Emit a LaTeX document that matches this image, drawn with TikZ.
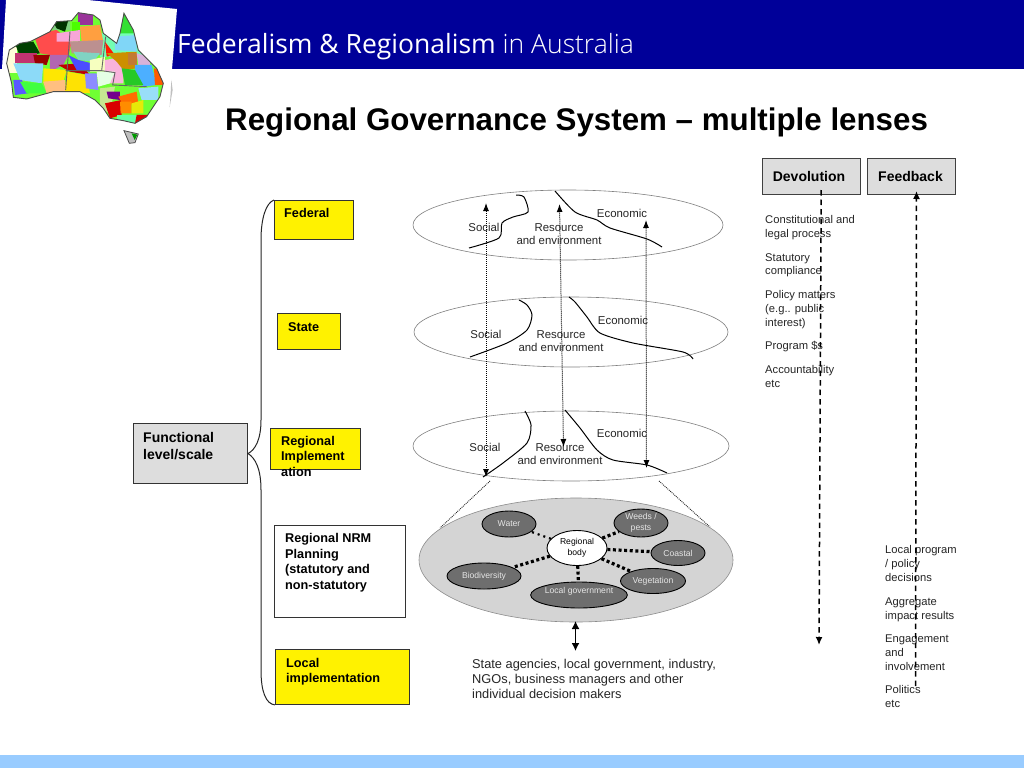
\documentclass[tikz,border=0pt]{standalone}
\usepackage{fontspec}
\setmainfont{Liberation Sans}
\newfontfamily\headfont{Open Sans}
\newfontfamily\headlight{Open Sans Light}
\usetikzlibrary{shapes.geometric,arrows.meta}
\definecolor{navy}{HTML}{000099}
\definecolor{foot}{HTML}{99CCFF}
\definecolor{pale}{HTML}{DDDDDD}
\definecolor{lens}{HTML}{808080}
\definecolor{disc}{HTML}{D4D4D4}
\definecolor{issue}{HTML}{6E6E6E}
\tikzset{
  note/.style={anchor=north west,inner sep=0pt,align=left,text=black!85,font=\fontsize{11.2}{13.6}\selectfont},
  lenslabel/.style={inner sep=0pt,align=center,text=black!85,font=\fontsize{11.4}{13}\selectfont},
  levellabel/.style={anchor=north west,inner sep=0pt,align=left,font=\bfseries\fontsize{12.7}{15.4}\selectfont},
  levelbox/.style={draw=black!80,line width=.9pt,fill=yellow,rectangle,inner sep=0pt,anchor=north west},
  headbox/.style={draw=black!75,line width=1pt,fill=pale,rectangle,inner sep=0pt,anchor=north west,font=\bfseries\fontsize{14}{16}\selectfont},
  lens/.style={draw=lens,line width=.6pt,fill=white,ellipse,inner sep=0pt},
  issuenode/.style={draw=black,line width=.9pt,fill=issue,ellipse,inner sep=0pt,text=white!90!black,align=center,font=\fontsize{8.6}{10.5}\selectfont},
  border/.style={line width=1pt,black,smooth,tension=.45},
  lift/.style={densely dotted,line width=1pt,{Latex[length=8pt,width=6pt]}-{Latex[length=8pt,width=6pt]}},
  thicklink/.style={line width=3.2pt,dash pattern=on 3pt off 2.6pt,black},
  thinlink/.style={line width=2.2pt,dash pattern=on 2pt off 4pt,black},
  longdash/.style={line width=1.5pt,dash pattern=on 5.5pt off 4pt,black},
  zoomline/.style={densely dotted,line width=.9pt,black!85}
}
\begin{document}
\begin{tikzpicture}[x=1pt,y=-1pt]
\useasboundingbox (0,0) rectangle (1024,768);
\fill[white] (0,0) rectangle (1024,768);
\fill[navy] (0,0) rectangle (1024,69);
\fill[foot] (0,755) rectangle (1024,768);
% map card
\fill[white] (6,0) -- (88,0) -- (177,9) -- (172,69) -- (172,150) -- (0,150) -- (0,69) -- (2,69) -- cycle;
\begin{scope}[x=.3333pt,y=-.3333pt]
\def\ausoutline{(28,150) -- (60,130) -- (90,125) -- (150,95) -- (170,65) -- (215,62) -- (235,38) -- (280,45) -- (300,60) -- (310,100) -- (350,130) -- (360,100) -- (372,40) -- (400,90) -- (415,150) -- (470,205) -- (490,250) -- (480,290) -- (440,350) -- (405,370) -- (370,362) -- (330,355) -- (310,325) -- (285,300) -- (240,275) -- (160,275) -- (80,297) -- (40,292) -- (35,250) -- (20,190) -- cycle}
\begin{scope}
\clip \ausoutline;
\fill[green!70!yellow!80!white] (0,0) rectangle (520,400);
\fill[green!55!cyan!55] (300,100) rectangle (430,170);
\fill[green!85!black!80] (340,30) -- (400,30) -- (400,100) -- (350,100) -- cycle;
\fill[white!85!yellow] (20,140) rectangle (50,220);
\fill[black!75!green] (45,130) -- (100,125) -- (120,160) -- (60,170) -- cycle;
\fill[red!70!white] (100,100) -- (170,90) -- (215,125) -- (205,170) -- (150,165) -- (120,160) -- cycle;
\fill[red!70!blue!80] (45,160) -- (110,160) -- (110,190) -- (45,190) -- cycle;
\fill[red!60!black] (100,165) -- (150,165) -- (140,195) -- (105,190) -- cycle;
\fill[cyan!45] (40,190) -- (130,190) -- (125,250) -- (60,240) -- cycle;
\fill[blue!65!white] (40,240) -- (65,240) -- (85,280) -- (45,285) -- cycle;
\fill[green!75] (60,245) -- (125,250) -- (140,280) -- (80,280) -- cycle;
\fill[violet!60!white] (150,165) -- (205,165) -- (190,195) -- (150,215) -- cycle;
\fill[yellow!90!orange] (130,205) -- (200,210) -- (190,245) -- (130,250) -- cycle;
\fill[orange!50!white] (130,245) -- (195,240) -- (200,280) -- (140,280) -- cycle;
\fill[red!75!black] (175,195) -- (240,190) -- (270,225) -- (210,215) -- cycle;
\fill[yellow!85!orange] (200,215) -- (260,225) -- (270,280) -- (195,275) -- cycle;
\fill[black!35!green!50!white] (160,60) rectangle (210,90);
\fill[black!80!green] (160,65) -- (205,60) -- (195,95) -- (170,85) -- cycle;
\fill[violet!80!white] (235,40) rectangle (280,75);
\fill[green!70!yellow] (215,65) rectangle (240,95);
\fill[orange!75!white] (240,80) -- (300,75) -- (310,125) -- (245,125) -- cycle;
\fill[magenta!35] (170,100) -- (240,90) -- (240,125) -- (170,125) -- cycle;
\fill[red!25!gray!70!white] (210,125) -- (310,120) -- (305,165) -- (215,160) -- cycle;
\fill[red!80!orange] (315,125) -- (345,165) -- (320,170) -- cycle;
\fill[cyan!50!green!50] (220,155) -- (300,160) -- (280,185) -- (235,180) -- cycle;
\fill[blue!70!white] (205,165) -- (235,180) -- (275,190) -- (270,215) -- (230,210) -- cycle;
\fill[green!15!yellow!25] (270,180) -- (315,170) -- (315,215) -- (270,215) -- cycle;
\fill[magenta!30] (315,180) -- (370,170) -- (370,250) -- (315,250) -- cycle;
\fill[orange!60!yellow!80!black] (320,160) -- (410,155) -- (410,205) -- (370,210) -- (350,185) -- cycle;
\fill[orange!70!black!80] (385,160) rectangle (412,195);
\fill[violet!30!white] (410,160) -- (450,170) -- (450,195) -- (415,195) -- cycle;
\fill[cyan!50] (345,110) -- (410,105) -- (410,155) -- (345,150) -- cycle;
\fill[blue!45!cyan!70] (405,195) -- (455,195) -- (470,255) -- (430,260) -- (405,225) -- cycle;
\fill[red!65!yellow] (462,205) -- (495,210) -- (495,255) -- (465,255) -- cycle;
\fill[green!75!black!85] (365,205) -- (405,210) -- (430,255) -- (375,255) -- cycle;
\fill[blue!45!white] (255,220) -- (290,220) -- (295,270) -- (258,265) -- cycle;
\fill[green!10!white] (290,215) -- (345,215) -- (330,250) -- (295,260) -- cycle;
\fill[yellow!50!green!45!white] (300,265) -- (345,260) -- (330,340) -- (300,325) -- cycle;
\fill[violet!90!blue] (320,275) -- (360,275) -- (360,300) -- (325,295) -- cycle;
\fill[red!85!black] (315,310) -- (365,300) -- (365,345) -- (330,355) -- cycle;
\fill[orange!85!red] (355,290) -- (410,275) -- (415,310) -- (370,315) -- cycle;
\fill[orange!90!yellow] (360,305) -- (395,305) -- (395,340) -- (362,340) -- cycle;
\fill[yellow!90!green] (395,310) -- (430,300) -- (430,340) -- (395,340) -- cycle;
\fill[cyan!40] (415,265) -- (475,260) -- (475,300) -- (425,300) -- cycle;
\fill[green!60!cyan!60] (350,345) -- (410,345) -- (410,375) -- (350,375) -- cycle;
\fill[red!85!black] (410,345) -- (445,345) -- (440,370) -- (405,370) -- cycle;
\draw[black!60,line width=.9pt] (210,95) -- (197,270) (317,110) -- (305,212) -- (345,218) -- (338,255) -- (440,260) (197,212) -- (305,212);
\end{scope}
\draw[black!70,line width=.9pt] \ausoutline;
\fill[black!25!white,draw=black!70,line width=.8pt] (372,392) -- (415,402) -- (405,428) -- (388,430) -- cycle;
\fill[green!60!black] (395,400) -- (412,404) -- (404,420) -- cycle;
\fill[black!25] (514,240) -- (518,270) -- (509,322) -- (512,280) -- cycle;
\end{scope}
% header and title
\node[anchor=west,inner sep=0pt,white] (headline) at (177,47) {\fontsize{26.5}{30}\selectfont\headfont Federalism \& Regionalism {\headlight in Australia}};
\node[anchor=west,inner sep=0pt] (title) at (225,122) {\bfseries\fontsize{31.3}{36}\selectfont Regional Governance System – multiple lenses};
% level boxes
\node[draw=black!80,line width=1pt,fill=pale,rectangle,inner sep=0pt,anchor=north west,minimum width=114pt,minimum height=60pt] (functional) at (133,423) {};
\node[anchor=north west,inner sep=0pt,align=left,font=\bfseries\fontsize{14}{17}\selectfont] (functext) at (143,432.5) {Functional\\level/scale};
\node[levelbox,minimum width=79pt,minimum height=39pt] (federal) at (274,200) {};
\node[levelbox,minimum width=63pt,minimum height=36pt] (state) at (277,313) {};
\node[levelbox,minimum width=90pt,minimum height=41pt] (regimp) at (270,428) {};
\node[levelbox,fill=white,minimum width=131pt,minimum height=92pt] (nrm) at (274,525) {};
\node[levelbox,minimum width=134pt,minimum height=55pt] (local) at (275,649) {};
\node[levellabel] (federaltext) at (284,208.5) {Federal};
\node[levellabel] (statetext) at (288,322) {State};
\node[levellabel] (regimptext) at (281,436) {Regional\\Implement\\ation};
\node[levellabel] (nrmtext) at (285,533.5) {Regional NRM\\Planning\\(statutory and\\non-statutory};
\node[levellabel] (localtext) at (286,658) {Local\\implementation};
% brace
\draw[line width=1pt,black!85] (federal.north west) .. controls (266,203) and (261,218) .. (261,240) -- (261,420) .. controls (261,440) and (255,450) .. (functional.east) .. controls (255,458) and (261,468) .. (261,490) -- (261,670) .. controls (261,692) and (266,704) .. (local.south west);
% lens ellipses
\node[lens,minimum width=310pt,minimum height=70pt] (lensA) at (568,225) {};
\node[lens,minimum width=314pt,minimum height=70pt] (lensB) at (571,332) {};
\node[lens,minimum width=316pt,minimum height=70pt] (lensC) at (571,446) {};
\draw[border] plot coordinates {(516,195) (524,197) (528,212) (513,217) (502,223) (499,238) (469,248)};
\draw[border] plot coordinates {(555,191) (575,212) (597,220) (610,228) (647,239) (662,247)};
\draw[border] plot coordinates {(519,300) (527,305) (532,315) (527,330) (507,343) (470,357)};
\draw[border] plot coordinates {(569,297) (575,302) (587,317) (600,333) (633,343) (683,352) (693,359)};
\draw[border] plot coordinates {(525,411) (531,425) (527,443) (503,463) (483,477)};
\draw[border] plot coordinates {(565,410) (580,428) (597,450) (613,460) (647,465) (667,473)};
\node[lenslabel] (socA) at (484,227.5) {Social};
\node[lenslabel] (resA) at (559,234) {Resource\\and environment};
\node[lenslabel] (ecoA) at (622,213.5) {Economic};
\node[lenslabel] (socB) at (486,334.5) {Social};
\node[lenslabel] (resB) at (561,341) {Resource\\and environment};
\node[lenslabel] (ecoB) at (623,320.5) {Economic};
\node[lenslabel] (socC) at (485,447.5) {Social};
\node[lenslabel] (resC) at (560,454) {Resource\\and environment};
\node[lenslabel] (ecoC) at (622,433.5) {Economic};
% vertical lifts
\coordinate (liftAt) at (486,203);
\coordinate (liftAb) at (486,477);
\coordinate (liftBt) at (559.5,204);
\coordinate (liftBb) at (563.5,447);
\coordinate (liftCt) at (646,220);
\coordinate (liftCb) at (646.5,468);
\draw[lift] (liftAb) -- (liftAt);
\draw[lift] (liftBb) -- (liftBt);
\draw[lift] (liftCb) -- (liftCt);
% zoom lines
\coordinate (zoomAa) at (490,481);
\coordinate (zoomAb) at (440,528);
\coordinate (zoomBa) at (659,481);
\coordinate (zoomBb) at (710,527);
\draw[zoomline] (zoomAa) -- (zoomAb);
\draw[zoomline] (zoomBa) -- (zoomBb);
% regional disc
\node[draw=black!45,line width=.6pt,fill=disc,ellipse,inner sep=0pt,minimum width=314pt,minimum height=124pt] (disc) at (576,560) {};
\node[draw=black,line width=.9pt,fill=white,ellipse,inner sep=0pt,align=center,minimum width=60pt,minimum height=35pt,font=\fontsize{8.6}{11.5}\selectfont] (body) at (577,548) {Regional\\body};
\node[issuenode,minimum width=54pt,minimum height=26pt] (water) at (509,524) {Water};
\node[issuenode,minimum width=54pt,minimum height=28pt] (weeds) at (641,523) {Weeds /\\pests};
\node[issuenode,minimum width=54pt,minimum height=25pt] (coastal) at (678,553) {Coastal};
\node[issuenode,minimum width=65pt,minimum height=25pt] (veg) at (653,581) {Vegetation};
\node[issuenode,minimum width=88pt,minimum height=26pt] (lgov) at (579,595) {\raisebox{10pt}{Local government}};
\node[issuenode,minimum width=74pt,minimum height=26pt] (bio) at (484,576) {Biodiversity};
\draw[thinlink] (body) -- (water);
\draw[thicklink] (body) -- (weeds);
\draw[thicklink] (body) -- (coastal);
\draw[thicklink] (body) -- (veg);
\draw[thicklink] (body) -- (lgov);
\draw[thicklink] (body) -- (bio);
% stakeholders
\coordinate (linkTop) at (575.5,621);
\coordinate (linkBot) at (575.5,651);
\draw[line width=1.5pt,{Latex[length=8pt,width=8pt]}-{Latex[length=8pt,width=8pt]}] (linkTop) -- (linkBot);
\node[anchor=north west,inner sep=0pt,align=left,text=black!85,font=\fontsize{12.8}{15.2}\selectfont] (actors) at (472,659) {State agencies, local government, industry,\\NGOs, business managers and other\\individual decision makers};
% right columns
\node[headbox,minimum width=98pt,minimum height=36pt] (devo) at (762,158) {Devolution\kern5pt};
\node[headbox,minimum width=88pt,minimum height=36pt] (feed) at (867,158) {Feedback\kern2pt};
\node[note] (n1) at (765,215.5) {Constitutional and\\legal process};
\node[note] (n2) at (765,253) {Statutory\\compliance};
\node[note] (n3) at (765,290.5) {Policy matters\\(e.g.. public\\interest)};
\node[note] (n4) at (765,341.5) {Program \$s};
\node[note] (n5) at (765,365.5) {Accountability\\etc};
\node[note] (m1) at (885,545.5) {Local program\\/ policy\\decisions};
\node[note] (m2) at (885,597.5) {Aggregate\\impact results};
\node[note] (m3) at (885,635) {Engagement\\and\\involvement};
\node[note] (m4) at (885,685.5) {Politics\\etc};
\coordinate (devoEnd) at (819,645);
\coordinate (feedEnd) at (915.5,686);
\draw[longdash,-{Latex[length=8pt,width=7pt]}] ([xshift=9.7pt,yshift=5pt]devo.south) -- (devoEnd);
\draw[longdash,-{Latex[length=8pt,width=7pt]}] (feedEnd) -- ([xshift=5pt,yshift=4pt]feed.south);
\end{tikzpicture}
\end{document}
